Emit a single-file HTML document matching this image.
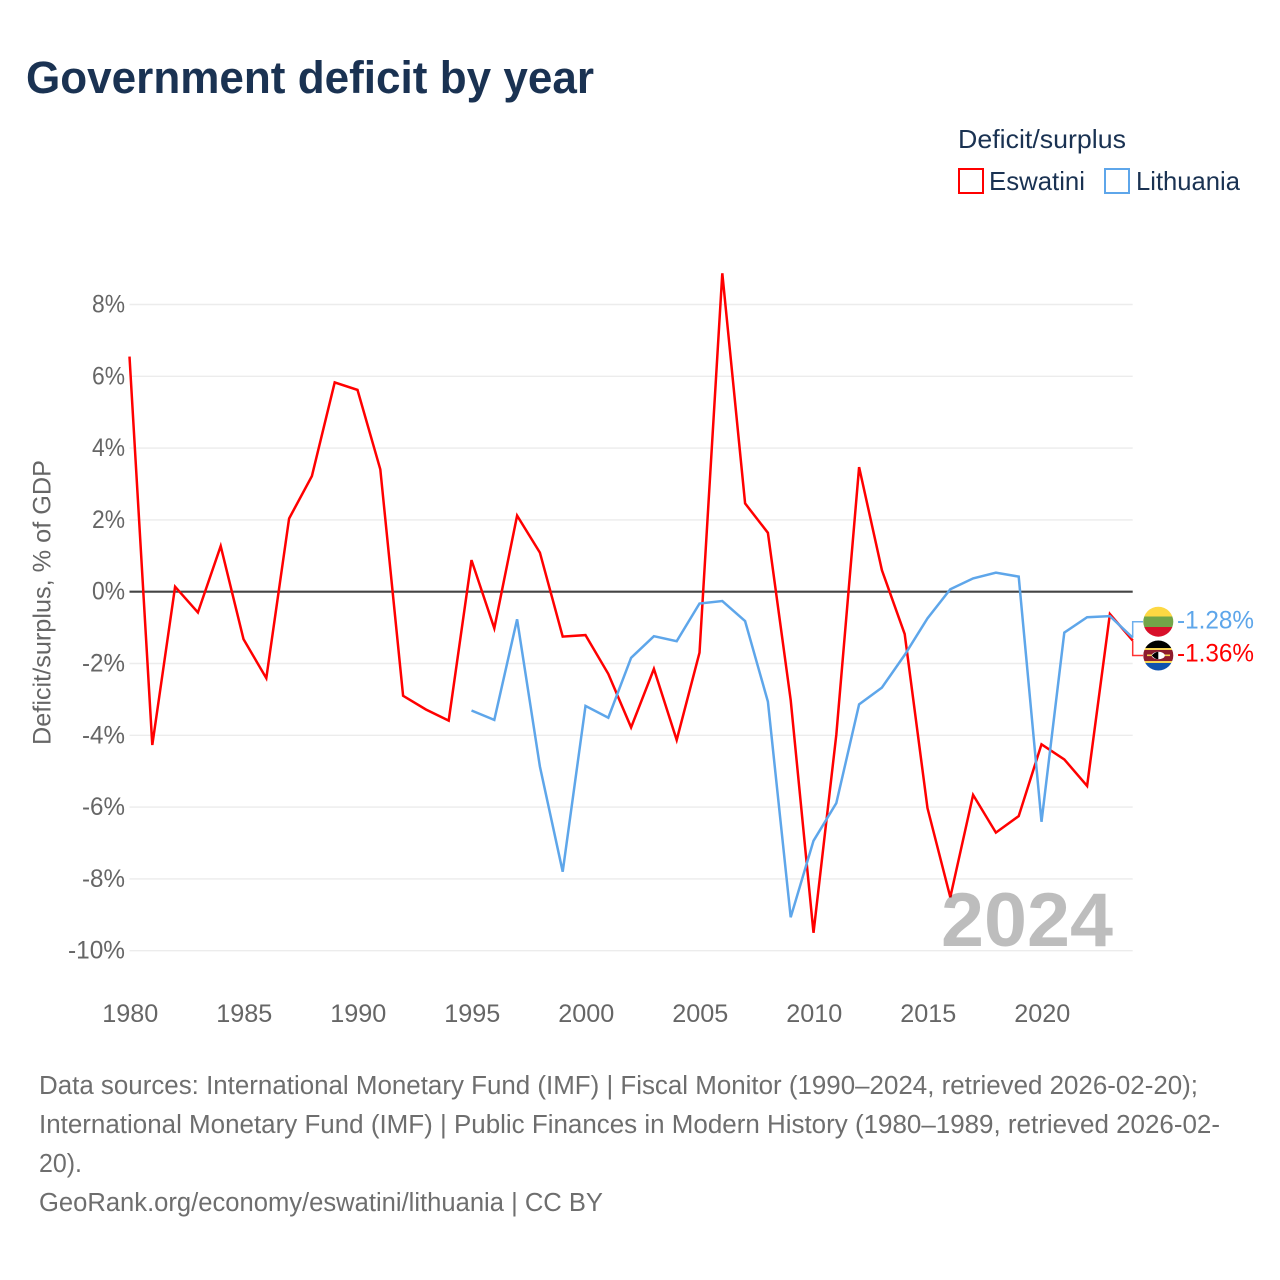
<!DOCTYPE html>
<html lang="en">
<head>
<meta charset="utf-8">
<title>Government deficit by year</title>
<style>
html,body{margin:0;padding:0;background:#fff;}
svg{display:block;font-family:"Liberation Sans",sans-serif;}
</style>
</head>
<body>
<svg id="chart" width="1280" height="1280" viewBox="0 0 1280 1280" xmlns="http://www.w3.org/2000/svg">
  <defs>
    <clipPath id="clip-lt"><circle cx="1158.3" cy="621.7" r="15"/></clipPath>
    <clipPath id="clip-sz"><circle cx="1158.3" cy="655.5" r="15"/></clipPath>
  </defs>
  <rect x="0" y="0" width="1280" height="1280" fill="#ffffff"/>
  <text x="26" y="93" font-size="45" font-weight="700" fill="#1a3252" textLength="568" lengthAdjust="spacingAndGlyphs">Government deficit by year</text>

  <g>
    <text x="958" y="148" font-size="26" fill="#1a3252" textLength="168" lengthAdjust="spacingAndGlyphs">Deficit/surplus</text>
    <rect x="959" y="169" width="24" height="24" fill="#ffffff" stroke="#ff0000" stroke-width="2"/>
    <text x="989" y="190" font-size="26" fill="#1a3252" textLength="96" lengthAdjust="spacingAndGlyphs">Eswatini</text>
    <rect x="1105" y="169" width="24" height="24" fill="#ffffff" stroke="#5ea6ea" stroke-width="2"/>
    <text x="1136" y="190" font-size="26" fill="#1a3252" textLength="104" lengthAdjust="spacingAndGlyphs">Lithuania</text>
  </g>

  <text transform="translate(50.5,745) rotate(-90)" x="0" y="0" font-size="25" fill="#666666" textLength="285" lengthAdjust="spacingAndGlyphs">Deficit/surplus, % of GDP</text>

  <g id="grid"></g>
  <g id="yticks"></g>
  <g id="xticks"></g>
  <line id="zero" stroke="#444444" stroke-width="2.2"/>
  <path id="line-eswatini" fill="none" stroke="#ff0000" stroke-width="2.5" stroke-linejoin="miter"/>
  <path id="line-lithuania" fill="none" stroke="#5ea6ea" stroke-width="2.5" stroke-linejoin="miter"/>
  <text x="941" y="946" font-size="76" font-weight="700" fill="#000000" fill-opacity="0.26" textLength="172" lengthAdjust="spacingAndGlyphs">2024</text>

  <path id="leader-lithuania" fill="none" stroke="#5ea6ea" stroke-width="1.5" opacity="0.9"/>
  <path id="leader-eswatini" fill="none" stroke="#ff0000" stroke-width="1.5" opacity="0.8"/>

  <g clip-path="url(#clip-lt)">
    <rect x="1143" y="606" width="31" height="10.5" fill="#fdd843"/>
    <rect x="1143" y="616.5" width="31" height="10.5" fill="#72a548"/>
    <rect x="1143" y="627" width="31" height="10.5" fill="#d8102a"/>
  </g>
  <g clip-path="url(#clip-sz)">
    <rect x="1143" y="640" width="31" height="8" fill="#000000"/>
    <rect x="1143" y="648" width="31" height="2" fill="#f5d354"/>
    <rect x="1143" y="650" width="31" height="11" fill="#8e1c2e"/>
    <rect x="1143" y="661" width="31" height="2" fill="#f5d354"/>
    <rect x="1143" y="663" width="31" height="8" fill="#0f52ae"/>
    <rect x="1147" y="654.5" width="23" height="1.6" fill="#f5d354"/>
    <ellipse cx="1158.3" cy="655.5" rx="6.5" ry="3.8" fill="#ffffff"/>
    <path d="M1151.8 655.5 Q1155 651.7 1158.3 651.7 L1158.3 659.3 Q1155 659.3 1151.8 655.5 Z" fill="#000000"/>
  </g>
  <text id="value-lithuania" x="1177" y="628.5" font-size="25" fill="#5ea6ea" textLength="77" lengthAdjust="spacingAndGlyphs"></text>
  <text id="value-eswatini" x="1177" y="661.5" font-size="25" fill="#ff0000" textLength="77" lengthAdjust="spacingAndGlyphs"></text>

  <g font-size="25.5" fill="#6e6e6e">
    <text x="39" y="1094" textLength="1159" lengthAdjust="spacingAndGlyphs">Data sources: International Monetary Fund (IMF) | Fiscal Monitor (1990–2024, retrieved 2026-02-20);</text>
    <text x="39" y="1133" textLength="1181" lengthAdjust="spacingAndGlyphs">International Monetary Fund (IMF) | Public Finances in Modern History (1980–1989, retrieved 2026-02-</text>
    <text x="39" y="1172" textLength="43" lengthAdjust="spacingAndGlyphs">20).</text>
    <text x="39" y="1211" textLength="564" lengthAdjust="spacingAndGlyphs">GeoRank.org/economy/eswatini/lithuania | CC BY</text>
  </g>
</svg>
<script>
var eswatiniYears = [1980,1981,1982,1983,1984,1985,1986,1987,1988,1989,1990,1991,1992,1993,1994,1995,1996,1997,1998,1999,2000,2001,2002,2003,2004,2005,2006,2007,2008,2009,2010,2011,2012,2013,2014,2015,2016,2017,2018,2019,2020,2021,2022,2023,2024];
var eswatiniValues = [6.55,-4.27,0.14,-0.58,1.27,-1.32,-2.41,2.04,3.22,5.83,5.62,3.41,-2.9,-3.28,-3.59,0.88,-1.02,2.12,1.09,-1.25,-1.21,-2.29,-3.78,-2.15,-4.13,-1.7,8.87,2.46,1.64,-3.02,-9.5,-3.99,3.47,0.6,-1.18,-6.03,-8.51,-5.66,-6.71,-6.25,-4.25,-4.67,-5.41,-0.62,-1.36];
var lithuaniaYears = [1995,1996,1997,1998,1999,2000,2001,2002,2003,2004,2005,2006,2007,2008,2009,2010,2011,2012,2013,2014,2015,2016,2017,2018,2019,2020,2021,2022,2023,2024];
var lithuaniaValues = [-3.31,-3.57,-0.77,-4.87,-7.8,-3.18,-3.51,-1.84,-1.24,-1.38,-0.33,-0.26,-0.82,-3.06,-9.07,-6.94,-5.89,-3.14,-2.67,-1.76,-0.74,0.07,0.37,0.53,0.42,-6.41,-1.14,-0.71,-0.68,-1.28];
var yTickValues = [8,6,4,2,0,-2,-4,-6,-8,-10];
var xTickValues = [1980,1985,1990,1995,2000,2005,2010,2015,2020];

var SVGNS = 'http://www.w3.org/2000/svg';
function xScale(year){ return 129.5 + (year - 1980) * 22.8; }
function yScale(v){ return 591.7 - v * 35.9; }
function linePath(years, values){
  return years.map(function(y, i){
    return (i ? 'L' : 'M') + xScale(y).toFixed(1) + ' ' + yScale(values[i]).toFixed(1);
  }).join(' ');
}
function yLabelWidth(label){
  var digits = label.replace(/[^0-9]/g, '').length;
  return digits * 14 + 19 + (label.charAt(0) === '-' ? 10 : 0);
}

var gridGroup = document.getElementById('grid');
var yGroup = document.getElementById('yticks');
var xGroup = document.getElementById('xticks');
var xEnd = xScale(2024);

yTickValues.forEach(function(v){
  var label = v + '%';
  if (v !== 0) {
    var gl = document.createElementNS(SVGNS, 'line');
    
    
    gl.setAttribute('x1', 129.5);
    gl.setAttribute('x2', xEnd);
    gl.setAttribute('y1', yScale(v));
    gl.setAttribute('y2', yScale(v));
    gl.setAttribute('stroke', '#ececec');
    gl.setAttribute('stroke-width', '1.4');
    gridGroup.appendChild(gl);
  }
  var t = document.createElementNS(SVGNS, 'text');
  
  
  var w = yLabelWidth(label);
  t.setAttribute('x', 125 - w);
  t.setAttribute('y', yScale(v) + 8);
  t.setAttribute('font-size', '25');
  t.setAttribute('fill', '#666666');
  t.setAttribute('textLength', w);
  t.setAttribute('lengthAdjust', 'spacingAndGlyphs');
  t.textContent = label;
  yGroup.appendChild(t);
});

xTickValues.forEach(function(y){
  var t = document.createElementNS(SVGNS, 'text');
  
  
  t.setAttribute('x', xScale(y) + 0.8);
  t.setAttribute('y', 1022);
  t.setAttribute('font-size', '25.2');
  t.setAttribute('fill', '#666666');
  t.setAttribute('text-anchor', 'middle');
  t.textContent = String(y);
  xGroup.appendChild(t);
});

var zero = document.getElementById('zero');
zero.setAttribute('x1', 129.5);
zero.setAttribute('x2', xEnd);
zero.setAttribute('y1', yScale(0));
zero.setAttribute('y2', yScale(0));

document.getElementById('line-eswatini').setAttribute('d', linePath(eswatiniYears, eswatiniValues));
document.getElementById('line-lithuania').setAttribute('d', linePath(lithuaniaYears, lithuaniaValues));

var lastE = eswatiniValues[eswatiniValues.length - 1];
var lastL = lithuaniaValues[lithuaniaValues.length - 1];
document.getElementById('leader-lithuania').setAttribute('d', 'M' + xEnd + ' ' + yScale(lastL) + ' L' + xEnd + ' 621.7 L1143 621.7');
document.getElementById('leader-eswatini').setAttribute('d', 'M' + xEnd + ' ' + yScale(lastE) + ' L' + xEnd + ' 655.5 L1143 655.5');
document.getElementById('value-lithuania').textContent = lastL.toFixed(2) + '%';
document.getElementById('value-eswatini').textContent = lastE.toFixed(2) + '%';
</script>
</body>
</html>
